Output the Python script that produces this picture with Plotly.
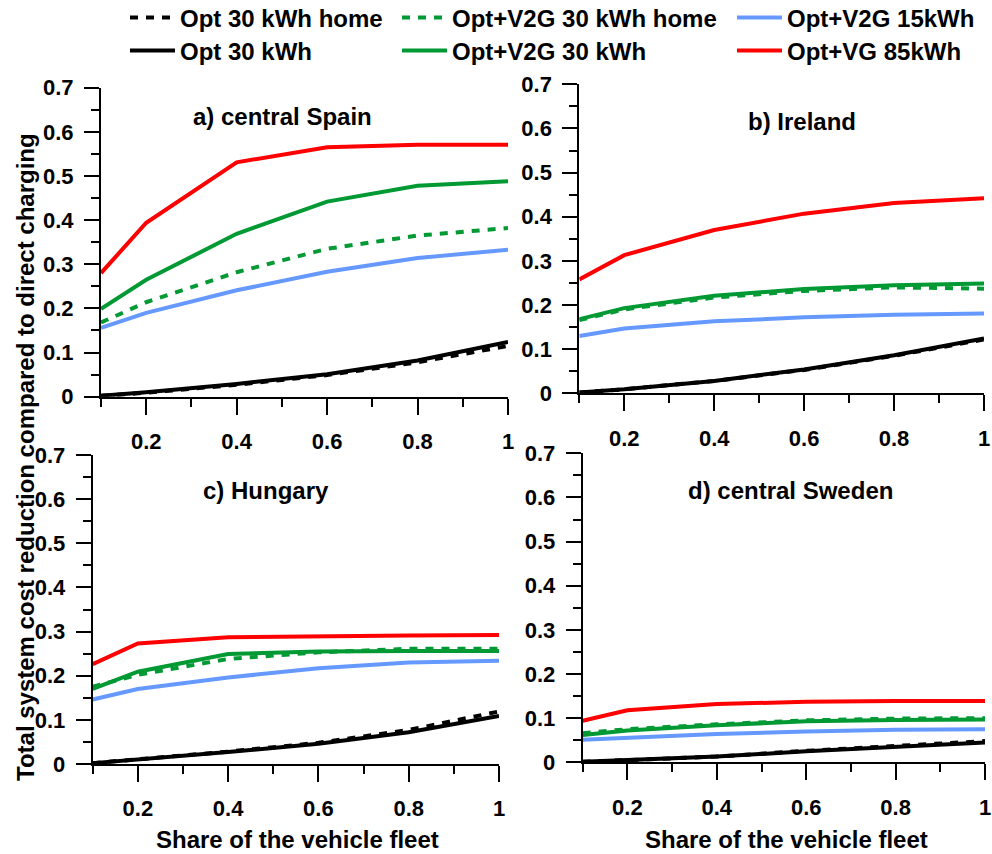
import plotly.graph_objects as go

W, H = 992, 854
FONT = "Liberation Sans, Arial, sans-serif"

# ---------------- data ----------------
share = [0.1, 0.2, 0.4, 0.6, 0.8, 1.0]

series_names = ["Opt 30 kWh home", "Opt+V2G 30 kWh home", "Opt+V2G 15kWh",
                "Opt 30 kWh", "Opt+V2G 30 kWh", "Opt+VG 85kWh"]

spain_opt_home = [0.002, 0.009, 0.027, 0.049, 0.078, 0.115]
spain_opt = [0.002, 0.010, 0.029, 0.051, 0.082, 0.124]
spain_v2g_home = [0.168, 0.214, 0.282, 0.335, 0.365, 0.382]
spain_v2g = [0.199, 0.265, 0.369, 0.442, 0.478, 0.488]
spain_v2g15 = [0.156, 0.190, 0.241, 0.283, 0.314, 0.333]
spain_vg85 = [0.280, 0.394, 0.531, 0.565, 0.571, 0.571]

ireland_opt_home = [0.002, 0.009, 0.028, 0.053, 0.085, 0.122]
ireland_opt = [0.002, 0.009, 0.028, 0.054, 0.086, 0.124]
ireland_v2g_home = [0.166, 0.190, 0.217, 0.232, 0.240, 0.237]
ireland_v2g = [0.168, 0.193, 0.221, 0.236, 0.245, 0.249]
ireland_v2g15 = [0.130, 0.147, 0.163, 0.172, 0.178, 0.181]
ireland_vg85 = [0.258, 0.313, 0.370, 0.407, 0.431, 0.442]

hungary_opt_home = [0.002, 0.010, 0.028, 0.048, 0.077, 0.119]
hungary_opt = [0.002, 0.010, 0.027, 0.046, 0.072, 0.109]
hungary_v2g_home = [0.175, 0.202, 0.238, 0.253, 0.261, 0.261]
hungary_v2g = [0.170, 0.209, 0.249, 0.255, 0.256, 0.256]
hungary_v2g15 = [0.146, 0.170, 0.196, 0.217, 0.230, 0.234]
hungary_vg85 = [0.226, 0.273, 0.287, 0.290, 0.291, 0.292]

sweden_opt_home = [0.001, 0.005, 0.013, 0.026, 0.036, 0.048]
sweden_opt = [0.001, 0.005, 0.013, 0.025, 0.034, 0.045]
sweden_v2g_home = [0.066, 0.075, 0.086, 0.095, 0.099, 0.100]
sweden_v2g = [0.062, 0.072, 0.084, 0.093, 0.096, 0.097]
sweden_v2g15 = [0.051, 0.056, 0.064, 0.070, 0.074, 0.075]
sweden_vg85 = [0.094, 0.118, 0.132, 0.137, 0.139, 0.139]

panel_titles = ["a) central Spain", "b) Ireland", "c) Hungary", "d) central Sweden"]

x_tickvals = [0.2, 0.4, 0.6, 0.8, 1.0]
x_ticktext = ["0.2", "0.4", "0.6", "0.8", "1"]
x_minorvals = [0.1, 0.3, 0.5, 0.7, 0.9]
y_tickvals = [0, 0.1, 0.2, 0.3, 0.4, 0.5, 0.6, 0.7]
y_ticktext = ["0", "0.1", "0.2", "0.3", "0.4", "0.5", "0.6", "0.7"]
y_minorvals = [0.05, 0.15, 0.25, 0.35, 0.45, 0.55, 0.65]

x_title = "Share of the vehicle fleet"
y_title = "Total system cost reduction compared to direct charging"

# ---------------- styling ----------------
BLACK, GREEN, BLUE, RED = "#000000", "#009933", "#6699ff", "#ff0000"
LW = 4
DOT = "8px,8px"

panels = [
    dict(data=[spain_opt_home, spain_v2g_home, spain_v2g15, spain_opt, spain_v2g, spain_vg85],
         xd=(101, 508), yd=(87.7, 396.7), title_xy=(282, 116)),
    dict(data=[ireland_opt_home, ireland_v2g_home, ireland_v2g15, ireland_opt, ireland_v2g, ireland_vg85],
         xd=(579.3, 984), yd=(84.3, 393.3), title_xy=(802, 122)),
    dict(data=[hungary_opt_home, hungary_v2g_home, hungary_v2g15, hungary_opt, hungary_v2g, hungary_vg85],
         xd=(92.7, 499), yd=(455, 764), title_xy=(266, 490)),
    dict(data=[sweden_opt_home, sweden_v2g_home, sweden_v2g15, sweden_opt, sweden_v2g, sweden_vg85],
         xd=(582.7, 985), yd=(453.3, 762.3), title_xy=(790, 490)),
]

styles = [
    dict(color=BLACK, dash=DOT),
    dict(color=GREEN, dash=DOT),
    dict(color=BLUE, dash="solid"),
    dict(color=BLACK, dash="solid"),
    dict(color=GREEN, dash="solid"),
    dict(color=RED, dash="solid"),
]
# drawing order: solid lines first, dotted ones on top
draw_order = [2, 3, 4, 5, 0, 1]
legend_ids = ["legend", "legend2", "legend3", "legend4", "legend5", "legend6"]

fig = go.Figure()

def fx(px):
    return px / W

def fy(py):
    return 1 - py / H

for pi, p in enumerate(panels):
    n = "" if pi == 0 else str(pi + 1)
    for si in draw_order:
        st = styles[si]
        fig.add_trace(go.Scatter(
            x=share, y=p["data"][si], mode="lines",
            name=series_names[si],
            line=dict(color=st["color"], width=LW, dash=st["dash"]),
            xaxis="x" + n, yaxis="y" + n,
            showlegend=(pi == 0), legend=legend_ids[si],
            hoverinfo="skip",
        ))
    tickfont = dict(family=FONT, size=22, color="black", weight="bold")
    fig.layout["xaxis" + n] = dict(
        domain=[fx(p["xd"][0]), fx(p["xd"][1])],
        anchor="y" + n, range=[0.1, 1.0],
        showline=True, linecolor="black", linewidth=2,
        showgrid=False, zeroline=False,
        ticks="outside", ticklen=16, tickwidth=2, tickcolor="black",
        tickmode="array", tickvals=x_tickvals, ticktext=x_ticktext,
        minor=dict(tickmode="array", tickvals=x_minorvals, ticks="outside",
                   ticklen=8, tickwidth=2, tickcolor="black", showgrid=False),
        tickfont=tickfont, ticklabelstandoff=8, automargin=False,
    )
    fig.layout["yaxis" + n] = dict(
        domain=[fy(p["yd"][1]), fy(p["yd"][0])],
        anchor="x" + n, range=[0, 0.7],
        showline=True, linecolor="black", linewidth=2,
        showgrid=False, zeroline=False,
        ticks="outside", ticklen=15, tickwidth=2, tickcolor="black",
        tickmode="array", tickvals=y_tickvals, ticktext=y_ticktext,
        minor=dict(tickmode="array", tickvals=y_minorvals, ticks="outside",
                   ticklen=8, tickwidth=2, tickcolor="black", showgrid=False),
        tickfont=tickfont, ticklabelstandoff=6, automargin=False,
    )
    fig.add_annotation(
        text=panel_titles[pi], xref="paper", yref="paper",
        x=fx(p["title_xy"][0]), y=fy(p["title_xy"][1]),
        xanchor="center", yanchor="middle", showarrow=False,
        font=dict(family=FONT, size=24, color="black", weight="bold"),
    )

# x-axis titles
for cx in [297, 786]:
    fig.add_annotation(
        text=x_title, xref="paper", yref="paper",
        x=fx(cx), y=fy(839), xanchor="center", yanchor="middle",
        showarrow=False, font=dict(family=FONT, size=24, color="black", weight="bold"),
    )
# y-axis title
fig.add_annotation(
    text=y_title, xref="paper", yref="paper", textangle=-90,
    x=fx(25), y=fy(457), xanchor="center", yanchor="middle",
    showarrow=False, font=dict(family=FONT, size=24, color="black", weight="bold"),
)

# legends: one entry per legend box, arranged in a 2x3 grid
legend_pos = [(125, 18), (397, 18), (732, 18), (125, 51), (397, 51), (732, 51)]
for lid, (lx, ly) in zip(legend_ids, legend_pos):
    fig.layout[lid] = dict(
        x=fx(lx), y=fy(ly), xanchor="left", yanchor="middle",
        orientation="h", bgcolor="rgba(0,0,0,0)", borderwidth=0,
        font=dict(family=FONT, size=24, color="black", weight="bold"),
        itemwidth=45, tracegroupgap=0,
    )

fig.update_layout(
    width=W, height=H, margin=dict(l=0, r=0, t=0, b=0, autoexpand=False),
    paper_bgcolor="white", plot_bgcolor="white",
    showlegend=True,
)

# remove the browser's default 8px body margin so the figure fills the window
fig.write_html("out.html", config={"displayModeBar": False},
               post_script="document.body.style.margin='0px';")
